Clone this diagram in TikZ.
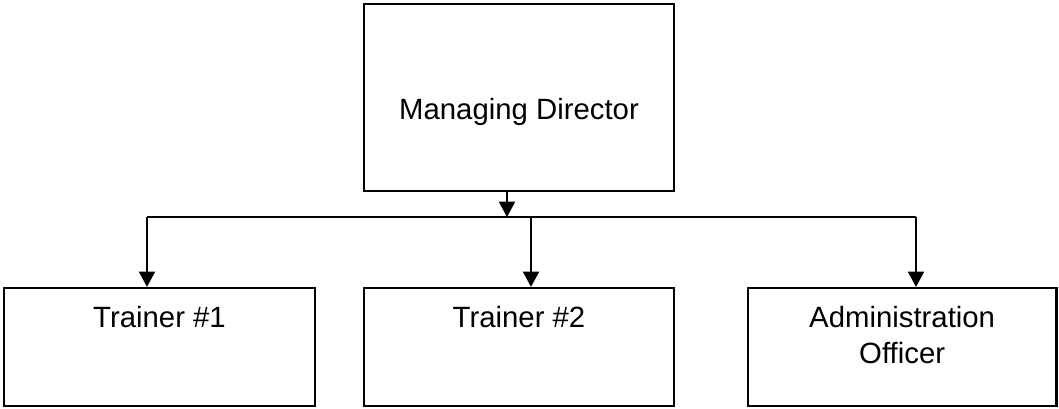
\documentclass[tikz,border=0pt]{standalone}
\usepackage{fontspec}
\setmainfont{Liberation Sans}
\usetikzlibrary{positioning, arrows.meta}

\tikzset{
  post/.style={draw, line width=1.6pt, rectangle, inner sep=0pt,
    minimum width=233pt, minimum height=88.5pt},
  posttext/.style={font=\fontsize{22}{27}\selectfont, align=center, inner sep=0pt},
  arr/.style={line width=1.6pt, -{Triangle[width=12pt,length=11.5pt]}}
}

\begin{document}
\begin{tikzpicture}[x=0.75pt, y=-0.75pt]
\useasboundingbox (0,0) rectangle (1059,409);

% Kaestchen
\node[post, minimum height=140.5pt] (md) at (519,97.5) {};
\node[post, below=71pt of md] (t2) {};
\node[post, left=35pt of t2] (t1) {};
\node[post, right=53.5pt of t2, minimum width=231.5pt] (admin) {};

% Beschriftung
\node[posttext, anchor=north] (mdtext) at ([yshift=-71.5pt]md.north) {Managing Director};
\node[posttext, anchor=north] (t1text) at ([yshift=-14pt]t1.north) {Trainer \#1};
\node[posttext, anchor=north] (t2text) at ([yshift=-14pt]t2.north) {Trainer \#2};
\node[posttext, anchor=north] (admintext) at ([yshift=-14.5pt]admin.north) {Administration\\Officer};

% Verbindungen
\coordinate (busL) at (147,217);
\coordinate (busR) at (916,217);
\draw[line width=1.6pt] (busL) -- (busR);
\draw[arr] ([xshift=-9pt]md.south) -- ([xshift=-9pt]md.south |- busL);
\draw[arr] (busL) -- (busL |- t1.north);
\draw[arr] ([xshift=9pt]t2.north |- busL) -- ([xshift=9pt]t2.north);
\draw[arr] (busR) -- (busR |- admin.north);
\end{tikzpicture}
\end{document}
